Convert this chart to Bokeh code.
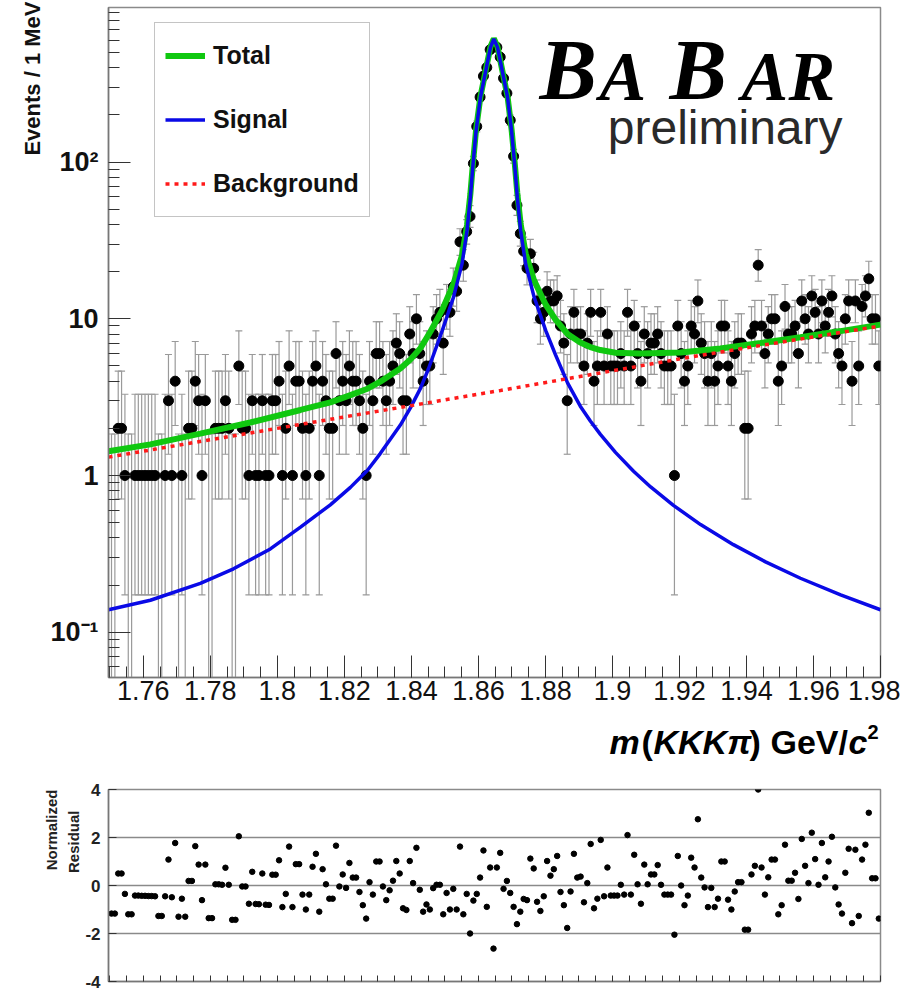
import numpy as np
from bokeh.plotting import figure
from bokeh.models import Range1d, FixedTicker, Legend, LegendItem, Label, Title
from bokeh.core.properties import value
from bokeh.layouts import column
from bokeh.embed import file_html
from bokeh.resources import INLINE

# ---------------- data ----------------
BIN_LO = 1.750      # GeV, lower edge of the first bin
BIN_WIDTH = 0.001   # 1 MeV bins

counts = [
    0, 0, 2, 2, 1, 0, 0, 1, 1, 1,
    1, 1, 1, 1, 0, 0, 1, 3, 1, 4,
    0, 1, 0, 2, 2, 4, 3, 1, 3, 0,
    0, 2, 2, 2, 3, 2, 0, 0, 5, 2,
    2, 1, 3, 1, 1, 3, 1, 1, 3, 3,
    4, 1, 2, 5, 1, 4, 4, 2, 1, 2,
    4, 5, 1, 4, 3, 2, 2, 6, 3, 4,
    3, 5, 4, 4, 3, 2, 1, 4, 3, 6,
    6, 4, 3, 4, 5, 7, 6, 3, 3, 8,
    6, 10, 6, 4, 5, 5, 8, 10, 11, 7,
    12, 11, 16, 15, 31, 22, 36, 45, 98, 169,
    260, 354, 402, 522, 548, 541, 468, 343, 275, 185,
    109, 53, 35, 27, 21, 26, 21, 13, 10, 11,
    15, 13, 13, 14, 9, 7, 3, 8, 11, 8,
    8, 5, 7, 11, 4, 5, 11, 5, 8, 5,
    5, 5, 6, 5, 11, 5, 9, 6, 4, 8,
    6, 7, 7, 8, 6, 5, 5, 5, 1, 9,
    6, 4, 5, 9, 8, 13, 7, 6, 4, 6,
    4, 5, 9, 9, 5, 4, 6, 7, 7, 2,
    2, 8, 9, 22, 9, 6, 8, 10, 10, 4,
    5, 12, 8, 8, 9, 6, 13, 10, 8, 14,
    11, 8, 13, 9, 11, 14, 8, 6, 5, 10,
    13, 4, 13, 5, 12, 14, 18, 10, 10, 5,
]

residuals = [
    -1.17, -1.17, 0.50, 0.50, -0.35, -1.20, -1.20, -0.42, -0.42, -0.43,
    -0.43, -0.44, -0.44, -0.45, -1.27, -1.27, -0.45, 1.08, -0.49, 1.77,
    -1.30, -0.55, -1.30, 0.19, 0.19, 1.64, 0.87, -0.61, 0.87, -1.36,
    -1.36, 0.05, 0.05, 0.03, 0.74, 0.03, -1.43, -1.43, 2.05, -0.04,
    -0.04, -0.76, 0.57, -0.77, -0.78, 0.50, -0.80, -0.81, 0.45, 0.45,
    1.05, -0.90, -0.35, 1.62, -0.90, 0.89, 0.89, -0.38, -1.00, -0.38,
    0.78, 1.32, -1.09, 0.68, 0.05, -0.55, -0.55, 1.66, -0.04, 0.46,
    -0.10, 0.94, 0.33, 0.33, -0.27, -0.82, -1.38, 0.14, -0.38, 1.00,
    1.00, -0.04, -0.61, -0.20, 0.20, 1.02, 0.50, -0.95, -1.02, 1.02,
    0.10, 1.57, -0.18, -1.09, -0.79, -1.00, -0.11, 0.03, 0.03, -1.20,
    -0.31, -1.00, -0.14, -1.00, 1.62, -1.20, -0.35, -2.00, -0.63, -0.35,
    0.33, 1.46, -0.89, 0.75, -2.63, 0.75, 1.36, -0.14, 0.19, -0.31,
    -0.89, -1.61, -1.09, -0.56, -0.61, 1.12, 0.71, -0.68, -1.06, -0.45,
    1.02, 0.41, 0.68, 1.23, -0.27, -0.82, -1.77, -0.25, 1.32, 0.33,
    0.37, -0.70, 0.10, 1.73, -0.95, -0.55, 1.90, -0.45, 0.75, -0.42,
    -0.42, -0.42, 0.03, -0.38, 2.10, -0.38, 1.28, 0.05, -0.76, 0.87,
    0.05, 0.46, 0.46, 0.85, 0.03, -0.38, -0.38, -0.38, -2.05, 1.23,
    0.00, -0.82, -0.42, 1.16, 0.75, 2.76, 0.33, -0.08, -0.90, -0.10,
    -0.90, -0.55, 1.00, 1.00, -0.59, -1.00, -0.25, 0.14, 0.14, -1.84,
    -1.84, 0.46, 0.82, 4.00, 0.75, -0.38, 0.34, 1.08, 1.08, -1.20,
    -0.82, 1.70, 0.20, 0.20, 0.53, -0.56, 1.94, 0.82, 0.10, 2.20,
    1.10, 0.03, 1.77, 0.34, 1.00, 2.03, -0.08, -0.79, -1.17, 0.53,
    1.53, -1.57, 1.49, -1.27, 1.08, 1.70, 3.03, 0.30, 0.30, -1.38,
]

# fit curves, points (mass in GeV, events / 1 MeV)
total_mass = [1.7496, 1.7621, 1.7770, 1.7919, 1.8069, 1.8158, 1.8218, 1.8269,
              1.8307, 1.8367, 1.8397, 1.8427, 1.8457, 1.8492, 1.8526, 1.8551,
              1.8566, 1.8576, 1.8584, 1.8593, 1.8606, 1.8626, 1.8636, 1.8646,
              1.8657, 1.8667, 1.8687, 1.8699, 1.8708, 1.8716, 1.8726, 1.8741,
              1.8766, 1.8801, 1.8830, 1.8866, 1.8904, 1.8934, 1.8964, 1.9009,
              1.9084, 1.9203, 1.9322, 1.9442, 1.9561, 1.9681, 1.9800]
total_vals = [1.43, 1.58, 1.85, 2.18, 2.62, 2.93, 3.26, 3.58,
              3.97, 4.82, 5.5, 6.5, 8.3, 11.4, 16.8, 25.4,
              39.6, 62.7, 100, 161, 262, 427, 545, 615,
              545, 427, 262, 161, 101, 63.5, 40.3, 26.1,
              17.6, 12.3, 9.9, 8.0, 7.05, 6.6, 6.32, 6.07,
              6.0, 6.1, 6.47, 7.0, 7.62, 8.35, 9.18]

signal_mass = [1.7496, 1.7621, 1.7770, 1.7869, 1.7979, 1.8069, 1.8158, 1.8218,
               1.8269, 1.8307, 1.8367, 1.8397, 1.8427, 1.8451, 1.8492, 1.8526,
               1.8551, 1.8566, 1.8576, 1.8584, 1.8593, 1.8606, 1.8626, 1.8636,
               1.8646, 1.8657, 1.8667, 1.8687, 1.8699, 1.8708, 1.8716, 1.8726,
               1.8741, 1.8766, 1.8801, 1.8830, 1.8866, 1.8904, 1.8934, 1.8964,
               1.9009, 1.9063, 1.9114, 1.9182, 1.9263, 1.9361, 1.9457, 1.9561,
               1.9681, 1.9800]
signal_vals = [0.139, 0.160, 0.205, 0.254, 0.34, 0.468, 0.65, 0.84,
               1.08, 1.38, 2.1, 2.7, 3.6, 4.8, 8.4, 13.8,
               22.4, 36.6, 59.7, 97.5, 158, 259, 424, 540,
               612, 540, 424, 259, 158, 97.5, 59.7, 36.6,
               22.4, 13.8, 8.4, 5.9, 3.9, 2.77, 2.23, 1.83,
               1.405, 1.065, 0.845, 0.645, 0.486, 0.362, 0.281, 0.221,
               0.173, 0.139]

bkg_mass = [1.7496, 1.8069, 1.8666, 1.9263, 1.9800]
bkg_vals = [1.31, 2.12, 3.49, 5.85, 9.0]

x_ticks = [1.76, 1.78, 1.80, 1.82, 1.84, 1.86, 1.88, 1.90, 1.92, 1.94, 1.96, 1.98]
x_tick_labels = ["1.76", "1.78", "1.8", "1.82", "1.84", "1.86", "1.88", "1.9",
                 "1.92", "1.94", "1.96", "1.98"]
y_ticks = [0.1, 1, 10, 100]
y_tick_labels = ["10\u207b\u00b9", "1", "10", "10\u00b2"]
res_ticks = [-4, -2, 0, 2, 4]
res_tick_labels = ["-4", "-2", "0", "2", "4"]

# 68% Poisson (Garwood) intervals for small counts
POIS_LO = [0.0, 0.173, 0.708, 1.367, 2.086, 2.840, 3.620, 4.419, 5.232, 6.057,
           6.891, 7.734, 8.585, 9.441, 10.30, 11.17, 12.04, 12.92, 13.80, 14.68,
           15.57, 16.47, 17.37]
POIS_HI = [1.841, 3.300, 4.638, 5.918, 7.163, 8.382, 9.584, 10.77, 11.95, 13.11,
           14.27, 15.42, 16.56, 17.70, 18.83, 19.96, 21.08, 22.19, 23.30, 24.40,
           25.50, 26.59, 27.68]

# ---------------- derived for drawing ----------------
centers = [BIN_LO + BIN_WIDTH * (i + 0.5) for i in range(len(counts))]
pt_y, bar_lo, bar_hi, cap_lo = [], [], [], []
for n in counts:
    if n < len(POIS_LO):
        lo, hi = POIS_LO[n], POIS_HI[n]
    else:
        lo, hi = n - n ** 0.5, n + n ** 0.5 + 1.0
    pt_y.append(n if n > 0 else np.nan)
    bar_lo.append(lo if n > 0 else 1e-4)
    bar_hi.append(hi)
    cap_lo.append(lo if n > 0 else np.nan)

# ---------------- geometry (page pixels) ----------------
W = 900
H_TOP = 716
H_XT = 54
H_RES = 222
FRAME_L, FRAME_R = 108, 880
FRAME_T, FRAME_B = 7, 677
X0, X1 = 1.7496, 1.98
Y0, Y1 = 0.0514, 970.0

FONT = "Liberation Sans"
SERIF = "Liberation Serif"
GREEN = "#10c810"
BLUE = "#0a0ae6"
RED = "#ff1a1a"
BAR = "#9a9a9a"


def mx(px):
    return X0 + (px - FRAME_L) * (X1 - X0) / (FRAME_R - FRAME_L)


def vy(py):
    l0, l1 = np.log10(Y0), np.log10(Y1)
    return 10 ** (l0 + (FRAME_B - py) * (l1 - l0) / (FRAME_B - FRAME_T))


# ---------------- top panel ----------------
p = figure(width=W, height=H_TOP, x_range=Range1d(X0, X1), y_range=Range1d(Y0, Y1),
           y_axis_type="log", output_backend="svg", toolbar_location=None,
           min_border_left=FRAME_L, min_border_right=W - FRAME_R,
           min_border_top=FRAME_T, min_border_bottom=H_TOP - FRAME_B)
p.xgrid.visible = False
p.ygrid.visible = False
p.outline_line_color = "#8a8a8a"
p.outline_line_width = 1.5
p.background_fill_color = "white"
p.border_fill_color = "white"

minor_x = [round(1.750 + 0.005 * k, 3) for k in range(47)]
p.xaxis.ticker = FixedTicker(ticks=x_ticks, minor_ticks=minor_x)
p.xaxis.major_label_overrides = dict(zip(x_ticks, x_tick_labels))
minor_y = [d * m for d in (0.01, 0.1, 1, 10, 100) for m in range(2, 10)]
p.yaxis.ticker = FixedTicker(ticks=y_ticks, minor_ticks=minor_y)
p.yaxis.major_label_overrides = dict(zip(y_ticks, y_tick_labels))

for ax in (p.xaxis[0], p.yaxis[0]):
    ax.axis_line_color = "#777777"
    ax.axis_line_width = 1.5
    ax.major_tick_line_color = "#333333"
    ax.minor_tick_line_color = "#333333"
    ax.major_tick_out = 0
    ax.minor_tick_out = 0
    ax.major_tick_in = 22
    ax.minor_tick_in = 11
    ax.major_label_text_font = FONT
    ax.major_label_text_color = "#111111"
p.xaxis.major_label_text_font_size = "27px"
p.xaxis.major_label_standoff = 3
p.yaxis.major_label_text_font_size = "27px"
p.yaxis.major_label_text_font_style = "bold"
p.yaxis.major_label_standoff = 10

p.add_layout(Title(text="Events / 1 MeV", align="right", text_font=FONT,
                   text_font_size="22px", text_font_style="bold",
                   text_color="#111111", standoff=6, offset=-6), "left")

# data with Poisson error bars
p.segment(x0=centers, y0=bar_lo, x1=centers, y1=bar_hi, line_color=BAR, line_width=1.2)
p.scatter(centers, bar_hi, marker="dash", size=7, line_color=BAR, line_width=1.2)
p.scatter(centers, cap_lo, marker="dash", size=7, line_color=BAR, line_width=1.2)
p.scatter(centers, pt_y, size=10, fill_color="black", line_color="black")

# fit curves
r_total = p.line(total_mass, total_vals, line_color=GREEN, line_width=6)
r_sig = p.line(signal_mass, signal_vals, line_color=BLUE, line_width=3.5)
r_bkg = p.line(bkg_mass, bkg_vals, line_color=RED, line_width=3.5, line_dash="4 5")

legend = Legend(items=[LegendItem(label="Total", renderers=[r_total]),
                       LegendItem(label="Signal", renderers=[r_sig]),
                       LegendItem(label="Background", renderers=[r_bkg])],
                location=(46, FRAME_B - 217), orientation="vertical")
legend.border_line_color = "#8a8a8a"
legend.border_line_width = 1.5
legend.background_fill_color = "white"
legend.background_fill_alpha = 1.0
legend.label_text_font = FONT
legend.label_text_font_size = "25px"
legend.label_text_font_style = "bold"
legend.label_text_color = "#111111"
legend.glyph_width = 40
legend.glyph_height = 45
legend.label_height = 45
legend.label_standoff = 8
legend.spacing = 19
legend.padding = 10
legend.margin = 0
p.add_layout(legend)

# BaBar logo (text centred vertically on the given page y)
for txt, px, size, mid in (("B", 539, "86px", 69), ("A", 599, "70px", 76),
                           ("B", 669, "86px", 69), ("A", 741, "70px", 76),
                           ("R", 788, "70px", 76)):
    p.add_layout(Label(x=mx(px), y=vy(mid), text=txt, text_font=SERIF,
                       text_font_size=size, text_font_style="bold italic",
                       text_color="black", text_align="left", text_baseline="middle"))
p.add_layout(Label(x=mx(842), y=vy(127), text="preliminary", text_font=FONT,
                   text_font_size="48px", text_color="#2a2a2a",
                   text_align="right", text_baseline="middle"))

# ---------------- x-axis title strip (x in page pixels of the shared frame) ----------------
px_t = figure(width=W, height=H_XT, x_range=Range1d(FRAME_L, FRAME_R), y_range=Range1d(0, H_XT),
              output_backend="svg", toolbar_location=None,
              min_border_left=FRAME_L, min_border_right=W - FRAME_R,
              min_border_top=0, min_border_bottom=0,
              x_axis_location=None, y_axis_location=None)
px_t.xgrid.visible = False
px_t.ygrid.visible = False
px_t.outline_line_color = None
px_t.background_fill_color = "white"
px_t.border_fill_color = "white"
XT_TOP = H_TOP  # page y of the strip top
for txt, x_pg, style, size, y_pg in (("m", 609, "bold italic", "34px", 741),
                                     ("(", 641, "bold", "34px", 741),
                                     ("KKK\u03c0", 653, "bold italic", "34px", 741),
                                     (")", 749, "bold", "34px", 741),
                                     ("GeV/", 770, "bold", "34px", 741),
                                     ("c", 848, "bold italic", "34px", 741),
                                     ("2", 867, "bold", "20px", 731)):
    px_t.text(x=[x_pg], y=[H_XT - (y_pg - XT_TOP)], text=[txt], text_font=value(FONT),
              text_font_size=size, text_font_style=style, text_color="black",
              text_align="left", text_baseline="middle")

# ---------------- residual panel ----------------
RES_T, RES_B = 789, 981
p2 = figure(width=W, height=H_RES, x_range=p.x_range, y_range=Range1d(-4, 4),
            output_backend="svg", toolbar_location=None,
            min_border_left=FRAME_L, min_border_right=W - FRAME_R,
            min_border_top=RES_T - (H_TOP + H_XT),
            min_border_bottom=(H_TOP + H_XT + H_RES) - RES_B)
p2.xgrid.visible = False
p2.ygrid.ticker = FixedTicker(ticks=[-2, 0, 2])
p2.ygrid.grid_line_color = "#8a8a8a"
p2.ygrid.grid_line_width = 1.5
p2.outline_line_color = "#8a8a8a"
p2.outline_line_width = 1.5
p2.background_fill_color = "white"
p2.border_fill_color = "white"

# unlabelled x ticks: all drawn as minor ticks
p2.xaxis.ticker = FixedTicker(ticks=[], minor_ticks=minor_x)
p2.xaxis.major_label_standoff = 0
p2.yaxis.ticker = FixedTicker(ticks=res_ticks)
p2.yaxis.major_label_overrides = dict(zip(res_ticks, res_tick_labels))
for ax in (p2.xaxis[0], p2.yaxis[0]):
    ax.axis_line_color = "#777777"
    ax.axis_line_width = 1.5
    ax.major_tick_line_color = "#333333"
    ax.minor_tick_line_color = "#333333"
    ax.major_tick_out = 0
    ax.minor_tick_out = 0
    ax.major_tick_in = 8
    ax.minor_tick_in = 6
p2.yaxis.major_label_text_font = FONT
p2.yaxis.major_label_text_font_size = "17px"
p2.yaxis.major_label_text_font_style = "bold"
p2.yaxis.major_label_text_color = "#222222"
p2.yaxis.major_label_standoff = 8
p2.yaxis.minor_tick_line_color = None

p2.add_layout(Title(text="Residual", align="right", text_font=FONT, text_font_size="15px",
                    text_font_style="bold", text_color="#222222", standoff=2, offset=21), "left")
p2.add_layout(Title(text="Normalized", align="right", text_font=FONT, text_font_size="15px",
                    text_font_style="bold", text_color="#222222", standoff=4), "left")

p2.scatter(centers, residuals, size=5.5, fill_color="black", line_color="black")

layout = column(p, px_t, p2, spacing=0)
open("out.html", "w").write(file_html(layout, INLINE))
